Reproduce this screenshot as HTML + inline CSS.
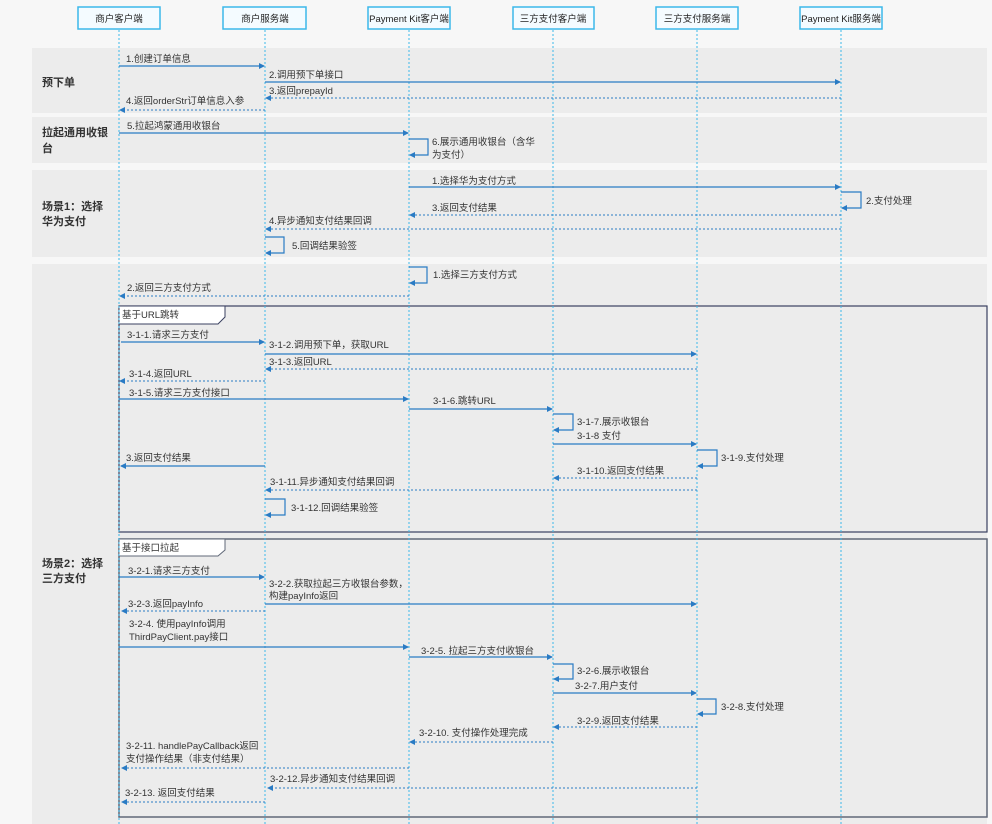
<!DOCTYPE html>
<html><head><meta charset="utf-8"><style>
html,body{margin:0;padding:0;background:#f7f7f7;}
svg{display:block;font-family:"Liberation Sans","Noto Sans CJK SC",sans-serif;}
.t{font-size:9.5px;fill:#333;}
.b{font-size:11px;font-weight:bold;fill:#333;}
.h{font-size:9.5px;fill:#222;text-anchor:middle;}
.m{stroke:#2a7bc4;stroke-width:1.2;fill:none;}
.d{stroke:#2a7bc4;stroke-width:1;stroke-dasharray:2 2;fill:none;}
.ll{stroke:#3cb8ea;stroke-width:1;stroke-dasharray:2 2;}
</style></head><body>
<svg width="992" height="824" viewBox="0 0 992 824" xmlns="http://www.w3.org/2000/svg">
<defs>
<marker id="a" markerWidth="6" markerHeight="6" refX="5" refY="3" orient="auto" markerUnits="userSpaceOnUse"><path d="M0,0L6,3L0,6z" fill="#2a7bc4"/></marker>
</defs>
<rect x="0" y="0" width="992" height="824" fill="#f7f7f7"/>
<rect x="32" y="48" width="955" height="65" fill="#ececec"/>
<rect x="32" y="117" width="955" height="46" fill="#ececec"/>
<rect x="32" y="170" width="955" height="87" fill="#ececec"/>
<rect x="32" y="264" width="955" height="560" fill="#ececec"/>
<text class="b" x="42" y="86">预下单</text>
<text class="b" x="42" y="136">拉起通用收银</text><text class="b" x="42" y="152">台</text>
<text class="b" x="42" y="210">场景1：选择</text><text class="b" x="42" y="225">华为支付</text>
<text class="b" x="42" y="567">场景2：选择</text><text class="b" x="42" y="582">三方支付</text>
<rect x="119" y="306" width="868" height="226" fill="none" stroke="#3a4060" stroke-width="1.2"/>
<path d="M119,306H225V317L218,324H119Z" fill="#fff" stroke="#3a4060"/>
<text class="t" x="122" y="318">基于URL跳转</text>
<rect x="119" y="539" width="868" height="278" fill="none" stroke="#606878" stroke-width="1.5"/>
<path d="M119,539H225V550L218,556H119Z" fill="#fff" stroke="#606878"/>
<text class="t" x="122" y="551">基于接口拉起</text>
<g class="ll"><line x1="119" y1="30" x2="119" y2="824"/><line x1="265" y1="30" x2="265" y2="824"/><line x1="409" y1="30" x2="409" y2="824"/><line x1="553" y1="30" x2="553" y2="824"/><line x1="697" y1="30" x2="697" y2="824"/><line x1="841" y1="30" x2="841" y2="824"/></g>
<g fill="#f4fbff" stroke="#3cb8ea" stroke-width="1.5">
<rect x="78" y="7" width="82" height="22"/><rect x="223" y="7" width="83" height="22"/><rect x="368" y="7" width="82" height="22"/><rect x="513" y="7" width="81" height="22"/><rect x="656" y="7" width="82" height="22"/><rect x="800" y="7" width="82" height="22"/></g>
<text class="h" x="119" y="22">商户客户端</text><text class="h" x="265" y="22">商户服务端</text><text class="h" x="409" y="22">Payment Kit客户端</text><text class="h" x="553" y="22">三方支付客户端</text><text class="h" x="697" y="22">三方支付服务端</text><text class="h" x="841" y="22">Payment Kit服务端</text>
<g marker-end="url(#a)">
<line class="m" x1="119" y1="66" x2="264" y2="66"/>
<line class="m" x1="265" y1="82" x2="840" y2="82"/>
<line class="d" x1="841" y1="98" x2="266" y2="98"/>
<line class="d" x1="265" y1="110" x2="120" y2="110"/>
<line class="m" x1="119" y1="133" x2="408" y2="133"/>
<path class="m" d="M409,139H428V155H410"/>
<line class="m" x1="409" y1="187" x2="840" y2="187"/>
<path class="m" d="M841,192H861V208H842"/>
<line class="d" x1="841" y1="215" x2="410" y2="215"/>
<line class="d" x1="841" y1="229" x2="266" y2="229"/>
<path class="m" d="M265,237H284V253H266"/>
<path class="m" d="M409,267H427V283H410"/>
<line class="d" x1="409" y1="296" x2="120" y2="296"/>
<line class="m" x1="121" y1="342" x2="264" y2="342"/>
<line class="m" x1="265" y1="354" x2="696" y2="354"/>
<line class="d" x1="697" y1="369" x2="266" y2="369"/>
<line class="d" x1="265" y1="381" x2="120" y2="381"/>
<line class="m" x1="119" y1="399" x2="408" y2="399"/>
<line class="m" x1="409" y1="409" x2="552" y2="409"/>
<path class="m" d="M553,414H573V430H554"/>
<line class="m" x1="553" y1="444" x2="696" y2="444"/>
<path class="m" d="M697,450H717V466H698"/>
<line class="m" x1="265" y1="466" x2="121" y2="466"/>
<line class="d" x1="697" y1="478" x2="554" y2="478"/>
<line class="d" x1="697" y1="490" x2="266" y2="490"/>
<path class="m" d="M265,499H285V515H266"/>
<line class="m" x1="119" y1="577" x2="264" y2="577"/>
<line class="m" x1="265" y1="604" x2="696" y2="604"/>
<line class="d" x1="265" y1="611" x2="122" y2="611"/>
<line class="m" x1="119" y1="647" x2="408" y2="647"/>
<line class="m" x1="409" y1="657" x2="552" y2="657"/>
<path class="m" d="M553,664H573V679H554"/>
<line class="m" x1="553" y1="693" x2="696" y2="693"/>
<path class="m" d="M697,699H716V714H698"/>
<line class="d" x1="697" y1="727" x2="554" y2="727"/>
<line class="d" x1="553" y1="742" x2="410" y2="742"/>
<line class="d" x1="409" y1="768" x2="122" y2="768"/>
<line class="d" x1="697" y1="788" x2="268" y2="788"/>
<line class="d" x1="265" y1="802" x2="122" y2="802"/>
</g>
<g class="t">
<text x="126" y="62">1.创建订单信息</text>
<text x="269" y="78">2.调用预下单接口</text>
<text x="269" y="94">3.返回prepayId</text>
<text x="126" y="104">4.返回orderStr订单信息入参</text>
<text x="127" y="129">5.拉起鸿蒙通用收银台</text>
<text x="432" y="145">6.展示通用收银台（含华</text><text x="432" y="158">为支付）</text>
<text x="432" y="184">1.选择华为支付方式</text>
<text x="866" y="204">2.支付处理</text>
<text x="432" y="211">3.返回支付结果</text>
<text x="269" y="224">4.异步通知支付结果回调</text>
<text x="292" y="249">5.回调结果验签</text>
<text x="433" y="278">1.选择三方支付方式</text>
<text x="127" y="291">2.返回三方支付方式</text>
<text x="127" y="338">3-1-1.请求三方支付</text>
<text x="269" y="348">3-1-2.调用预下单，获取URL</text>
<text x="269" y="365">3-1-3.返回URL</text>
<text x="129" y="377">3-1-4.返回URL</text>
<text x="129" y="396">3-1-5.请求三方支付接口</text>
<text x="433" y="404">3-1-6.跳转URL</text>
<text x="577" y="425">3-1-7.展示收银台</text>
<text x="577" y="439">3-1-8 支付</text>
<text x="721" y="461">3-1-9.支付处理</text>
<text x="126" y="461">3.返回支付结果</text>
<text x="577" y="474">3-1-10.返回支付结果</text>
<text x="270" y="485">3-1-11.异步通知支付结果回调</text>
<text x="291" y="511">3-1-12.回调结果验签</text>
<text x="128" y="574">3-2-1.请求三方支付</text>
<text x="269" y="587">3-2-2.获取拉起三方收银台参数，</text><text x="269" y="599">构建payInfo返回</text>
<text x="128" y="607">3-2-3.返回payInfo</text>
<text x="129" y="627">3-2-4. 使用payInfo调用</text><text x="129" y="640">ThirdPayClient.pay接口</text>
<text x="421" y="654">3-2-5. 拉起三方支付收银台</text>
<text x="577" y="674">3-2-6.展示收银台</text>
<text x="575" y="689">3-2-7.用户支付</text>
<text x="721" y="710">3-2-8.支付处理</text>
<text x="577" y="724">3-2-9.返回支付结果</text>
<text x="419" y="736">3-2-10. 支付操作处理完成</text>
<text x="126" y="749">3-2-11. handlePayCallback返回</text><text x="126" y="762">支付操作结果（非支付结果）</text>
<text x="270" y="782">3-2-12.异步通知支付结果回调</text>
<text x="125" y="796">3-2-13. 返回支付结果</text>
</g>
</svg>
</body></html>
